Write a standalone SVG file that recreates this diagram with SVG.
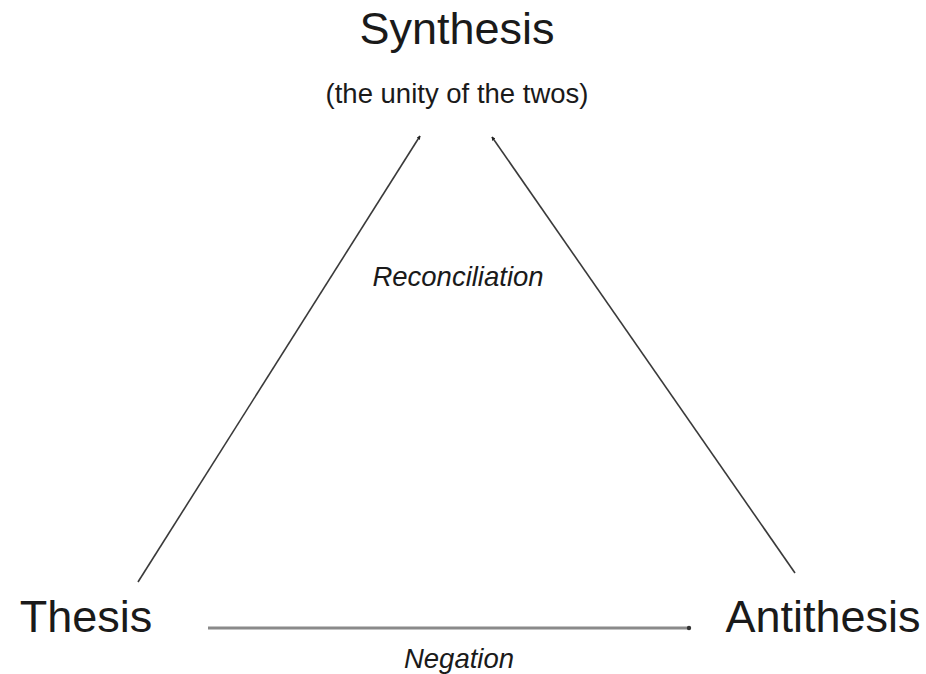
<svg xmlns="http://www.w3.org/2000/svg" width="926" height="674" viewBox="0 0 926 674">
<style>
.t{font-family:"Liberation Sans",Arial,sans-serif;fill:#1a1a1a}
.big{font-size:45px}
.sm{font-size:27.5px}
.it{font-style:italic;font-size:27.5px}
.ln{stroke:#3a3a3a;stroke-width:1.6;fill:none}
</style>
<defs>
<marker id="ah" viewBox="0 0 6 6" refX="5" refY="3" markerWidth="4" markerHeight="4" orient="auto" markerUnits="userSpaceOnUse">
<path d="M0,0 L6,3 L0,6 z" fill="#222"/>
</marker>
</defs>
<rect width="926" height="674" fill="#fff"/>
<g id="connectors">
<line class="ln" x1="138" y1="582" x2="420" y2="136" marker-end="url(#ah)"/>
<line class="ln" x1="795" y1="573" x2="492" y2="137" marker-end="url(#ah)"/>
<line x1="208" y1="628" x2="688" y2="628" stroke="#8a8a8a" stroke-width="3"/>
<circle cx="689" cy="628" r="2.2" fill="#333"/>
</g>
<g id="synthesis">
<text class="t big" x="457" y="44" text-anchor="middle">Synthesis</text>
<text class="t sm" x="457" y="103" text-anchor="middle">(the unity of the twos)</text>
</g>
<g id="thesis">
<text class="t big" x="86" y="632" text-anchor="middle">Thesis</text>
</g>
<g id="antithesis">
<text class="t big" x="823" y="632" text-anchor="middle">Antithesis</text>
</g>
<g id="labels">
<text class="t it" x="458" y="286" text-anchor="middle">Reconciliation</text>
<text class="t it" x="459" y="668" text-anchor="middle">Negation</text>
</g>
</svg>
